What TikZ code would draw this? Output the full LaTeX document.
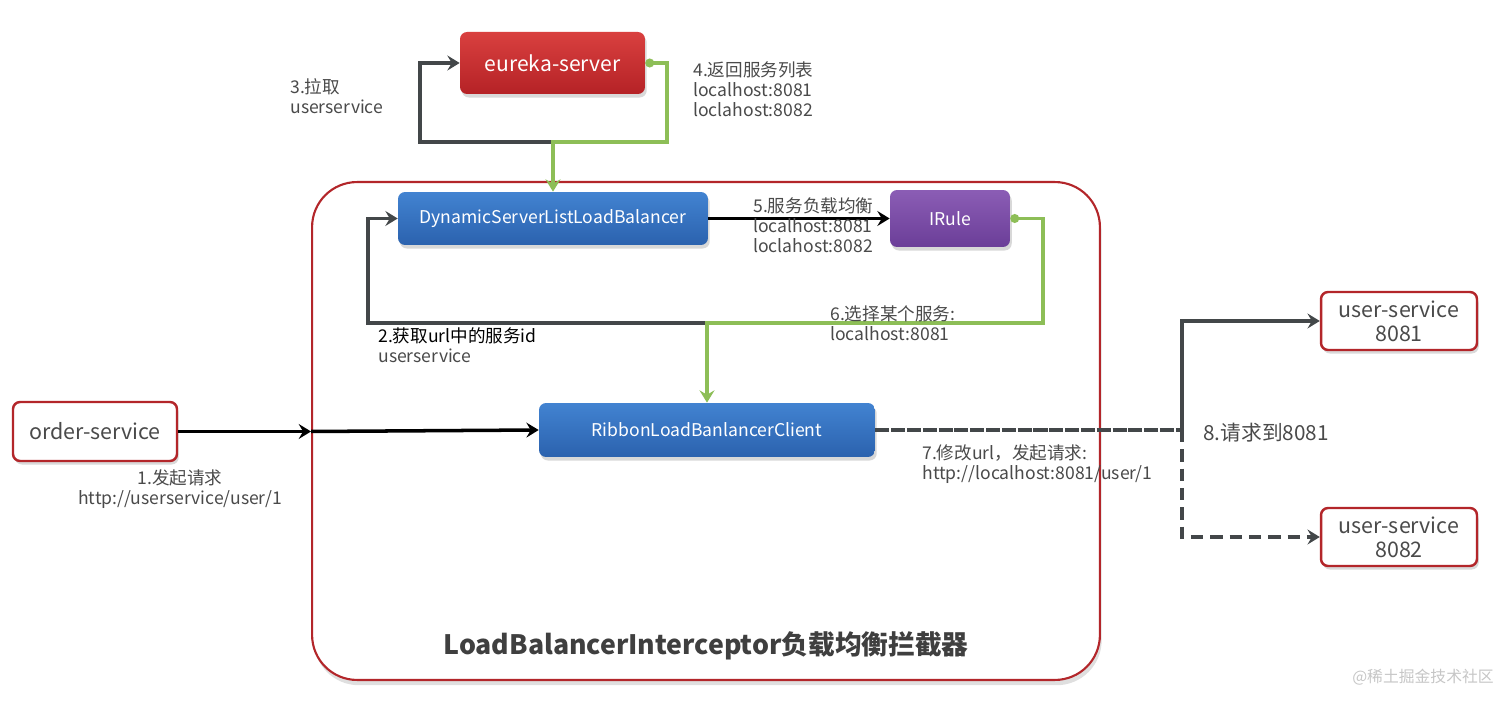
\documentclass[tikz,border=0pt]{standalone}
\usepackage{fontspec}
\setmainfont{Noto Sans CJK SC}
\usetikzlibrary{arrows.meta,shadows}
\definecolor{eutop}{HTML}{D9403F}
\definecolor{eubot}{HTML}{B52226}
\definecolor{bltop}{HTML}{4283D1}
\definecolor{blbot}{HTML}{2B62AE}
\definecolor{putop}{HTML}{8B5DB5}
\definecolor{pubot}{HTML}{6B3E98}
\definecolor{bordred}{HTML}{B3262A}
\definecolor{lgreen}{HTML}{8DBE57}
\definecolor{dgray}{HTML}{434749}
\definecolor{txtgray}{HTML}{4A4A4A}
\begin{document}
\begin{tikzpicture}[x=0.02cm,y=-0.02cm,
  boxbase/.style={rounded corners=4pt, align=center, inner sep=0pt,
    drop shadow={opacity=0.3,shadow xshift=1pt,shadow yshift=-2pt}},
  redbox/.style={boxbase, text=white, top color=eutop, bottom color=eubot, draw=none},
  bluebox/.style={boxbase, text=white, top color=bltop, bottom color=blbot, draw=none},
  purplebox/.style={boxbase, text=white, top color=putop, bottom color=pubot, draw=none},
  whitebox/.style={boxbase, draw=bordred, line width=1.4pt, fill=white, text=txtgray},
  lbl/.style={align=left, anchor=north west, inner sep=0pt, text=txtgray,
    font=\fontsize{10}{11.5}\selectfont},
  arr/.style={-{Stealth[length=7pt,width=8.5pt,inset=2.5pt]}},
  darkline/.style={draw=dgray, line width=2.2pt},
  greenline/.style={draw=lgreen, line width=2.2pt,
    {Circle[length=5pt]}-{Stealth[length=7pt,width=8.5pt,inset=2.5pt]}},
  blackline/.style={draw=black, line width=2pt, arr}
]
\useasboundingbox (0,0) rectangle (1512,705);

% container
\node[draw=bordred, line width=1.2pt, fill=white, rounded corners=0.9cm,
  minimum width=15.76cm, minimum height=9.96cm,
  drop shadow={opacity=0.25,shadow xshift=1pt,shadow yshift=-3pt}] (box) at (706,431) {};
\node[font=\fontsize{15.2}{18}\selectfont\bfseries, text=txtgray!85!black] (title) at (706,646)
  {LoadBalancerInterceptor负载均衡拦截器};

% nodes
\node[redbox, minimum width=3.7cm, minimum height=1.24cm, font=\fontsize{12}{14}\selectfont] (eureka) at (552.5,63) {eureka-server};
\node[bluebox, minimum width=6.2cm, minimum height=1.06cm, font=\fontsize{10}{12}\selectfont] (dyn) at (553,218.5) {DynamicServerListLoadBalancer};
\node[purplebox, minimum width=2.4cm, minimum height=1.14cm, font=\fontsize{10}{12}\selectfont] (irule) at (950,218.5) {IRule};
\node[bluebox, minimum width=6.72cm, minimum height=1.08cm, font=\fontsize{10}{12}\selectfont] (ribbon) at (707,430) {RibbonLoadBanlancerClient};
\node[whitebox, minimum width=3.28cm, minimum height=1.18cm, font=\fontsize{12.2}{14}\selectfont] (order) at (95,431.5) {order-service};
\node[whitebox, minimum width=3.12cm, minimum height=1.16cm, font=\fontsize{12.2}{13.8}\selectfont] (us1) at (1399,321) {user-service\\8081};
\node[whitebox, minimum width=3.12cm, minimum height=1.16cm, font=\fontsize{12.2}{13.8}\selectfont] (us2) at (1399,537) {user-service\\8082};

% junction coordinates
\coordinate (jtop) at (553,142);
\coordinate (k3) at (420,142);
\coordinate (k4) at (667,142);
\coordinate (jmid) at (707,323);
\coordinate (k2) at (368,323);
\coordinate (k6) at (1043,323);
\coordinate (jr) at (1182,430);
\coordinate (jin) at (order.east -| box.west);

% 3: pull
\draw[darkline, arr] (jtop) -- (k3) |- (eureka.west);
% 4: return list
\draw[greenline] (eureka.east) -| (k4) -- (jtop) -- (dyn.north);
% 2: get service id
\draw[darkline, arr] (jmid) -- (k2) |- (dyn.west);
% 6: choose service
\draw[greenline] (irule.east) -| (k6) -- (jmid) -- (ribbon.north);
% 5
\draw[blackline] (dyn.east) -- (irule.west);
% 1
\draw[blackline] (order.east) -- (jin);
\draw[blackline] (jin) -- (ribbon.west);
% 7
\draw[darkline, dash pattern=on 8pt off 1pt] (ribbon.east) -- (jr);
\draw[darkline, arr] (jr) |- (us1.west);
\draw[darkline, arr, dash pattern=on 7pt off 4pt] (jr) |- (us2.west);

% labels
\node[lbl] (l3) at (290,78) {3.拉取\\userservice};
\node[lbl] (l4) at (693,61) {4.返回服务列表\\localhost:8081\\loclahost:8082};
\node[lbl] (l5) at (753,197) {5.服务负载均衡\\localhost:8081\\loclahost:8082};
\node[lbl] (l6) at (830,305) {6.选择某个服务:\\localhost:8081};
\node[lbl] (l2) at (378,327) {\textcolor{black}{2.获取url中的服务id}\\userservice};
\node[lbl, anchor=north, align=center] (l1) at (180,469) {1.发起请求\\http://userservice/user/1};
\node[lbl] (l7) at (922,444) {7.修改url，发起请求:\\http://localhost:8081/user/1};
\node[anchor=west, inner sep=0pt, text=txtgray, font=\fontsize{11.8}{13}\selectfont] (l8) at (1203,433) {8.请求到8081};
\node[inner sep=0pt, text=gray!45, font=\fontsize{9}{11}\selectfont] (wm) at (1423,677) {@稀土掘金技术社区};
\end{tikzpicture}
\end{document}
